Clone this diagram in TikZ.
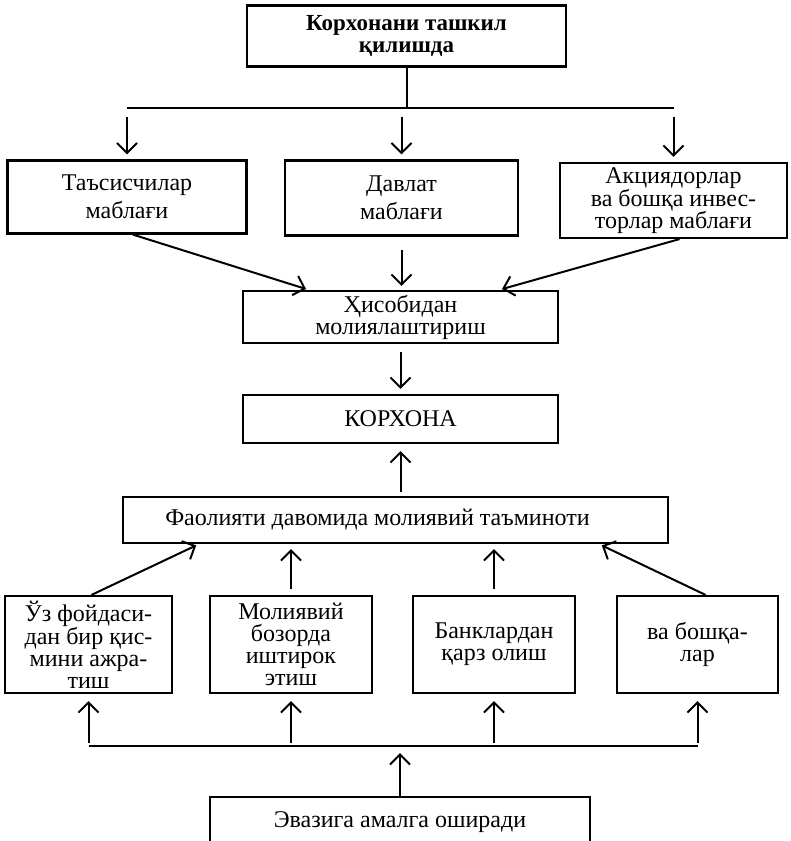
\documentclass[tikz,border=0pt]{standalone}
\usepackage{fontspec}
\setmainfont{Liberation Serif}
\usetikzlibrary{arrows.meta,calc}
\begin{document}
\begin{tikzpicture}[x=1pt,y=-1pt,
  txt/.style={font=\fontsize{24}{22}\selectfont},
  box/.style={draw, line width=2.2pt, align=center, inner sep=0pt, txt},
  loose/.style={font=\fontsize{24}{28}\selectfont},
  arr/.style={line width=2pt, -{Straight Barb[length=10pt,width=20pt,line width=2pt]}},
  ln/.style={line width=2pt}]
\useasboundingbox (0,0) rectangle (791,841);
% nodes
\node[box, font=\bfseries\fontsize{23}{22}\selectfont, minimum width=319pt, minimum height=61pt] (top) at (406.5,36) {Корхонани ташкил\\қилишда};
\node[box, loose, minimum width=239pt, minimum height=73pt] (tas) at (127,197) {Таъсисчилар\\маблағи};
\node[box, loose, minimum width=233pt, minimum height=75pt] (dav) at (401.5,198) {Давлат\\маблағи};
\node[box, minimum width=227pt, minimum height=75pt] (akc) at (673.5,200.5) {Акциядорлар\\ва бошқа инвес-\\торлар маблағи};
\node[box, minimum width=315pt, minimum height=52pt] (his) at (400.5,317) {Ҳисобидан\\молиялаштириш};
\node[box, minimum width=315pt, minimum height=48pt] (kor) at (400.5,419) {КОРХОНА};
\node[box, minimum width=545pt, minimum height=46pt] (fa) at (395.5,520) {\hspace*{-36pt}Фаолияти давомида молиявий таъминоти};
\node[box, minimum width=167pt, minimum height=97pt] (b1) at (88.5,644.5) {Ўз фойдаси-\\дан бир қис-\\мини ажра-\\тиш};
\node[box, minimum width=162pt, minimum height=97pt] (b2) at (291,644.5) {Молиявий\\бозорда\\иштирок\\этиш};
\node[box, minimum width=162pt, minimum height=97pt] (b3) at (494,644.5) {Банклардан\\қарз олиш};
\node[box, minimum width=161pt, minimum height=97pt] (b4) at (697.5,644.5) {ва бошқа-\\лар};
\node[txt, draw=none, minimum width=380pt, minimum height=50pt, inner sep=0pt] (ev) at (400,822) {Эвазига амалга оширади};
\draw[line width=2.2pt] (ev.south west) -- (ev.north west) -- (ev.north east) -- (ev.south east);
% top distribution
\coordinate (bar) at ($(top.south)+(0,40)$);
\draw[ln] (top.south) -- (bar);
\draw[ln] (bar -| tas.north) -- (bar -| akc.north);
\foreach \n in {tas,dav,akc}
  \draw[arr, shorten <=9pt, shorten >=5pt] (bar -| \n.north) -- (\n.north);
% to his
\draw[arr, shorten >=3pt] ([xshift=6pt]tas.south) -- ([xshift=67pt]his.north west);
\draw[arr, shorten <=13pt, shorten >=4pt] (dav.south) -- (dav.south |- his.north);
\draw[arr, shorten >=3pt] ([xshift=6pt]akc.south) -- ([xshift=-60pt]his.north east);
\draw[arr, shorten <=8pt, shorten >=5pt] (his.south) -- (kor.north);
\draw[arr, shorten <=4pt, shorten >=7pt] (kor.south |- fa.north) -- (kor.south);
% bottom boxes to fa
\draw[arr, shorten >=3pt] ([xshift=3pt]b1.north) -- ([xshift=77pt]fa.south west);
\draw[arr, shorten <=6pt, shorten >=5pt] (b2.north) -- (b2.north |- fa.south);
\draw[arr, shorten <=6pt, shorten >=5pt] (b3.north) -- (b3.north |- fa.south);
\draw[arr, shorten >=3pt] ([xshift=8pt]b4.north) -- ([xshift=-70pt]fa.south east);
% bottom distribution
\coordinate (bl) at ($(b1.south)+(0,52)$);
\draw[ln] (bl -| b1.south) -- (bl -| b4.south);
\foreach \n in {b1,b2,b3,b4}
  \draw[arr, shorten <=3pt, shorten >=7pt] (bl -| \n.south) -- (\n.south);
\draw[arr, shorten >=7pt] (ev.north) -- (ev.north |- bl);
\end{tikzpicture}
\end{document}
